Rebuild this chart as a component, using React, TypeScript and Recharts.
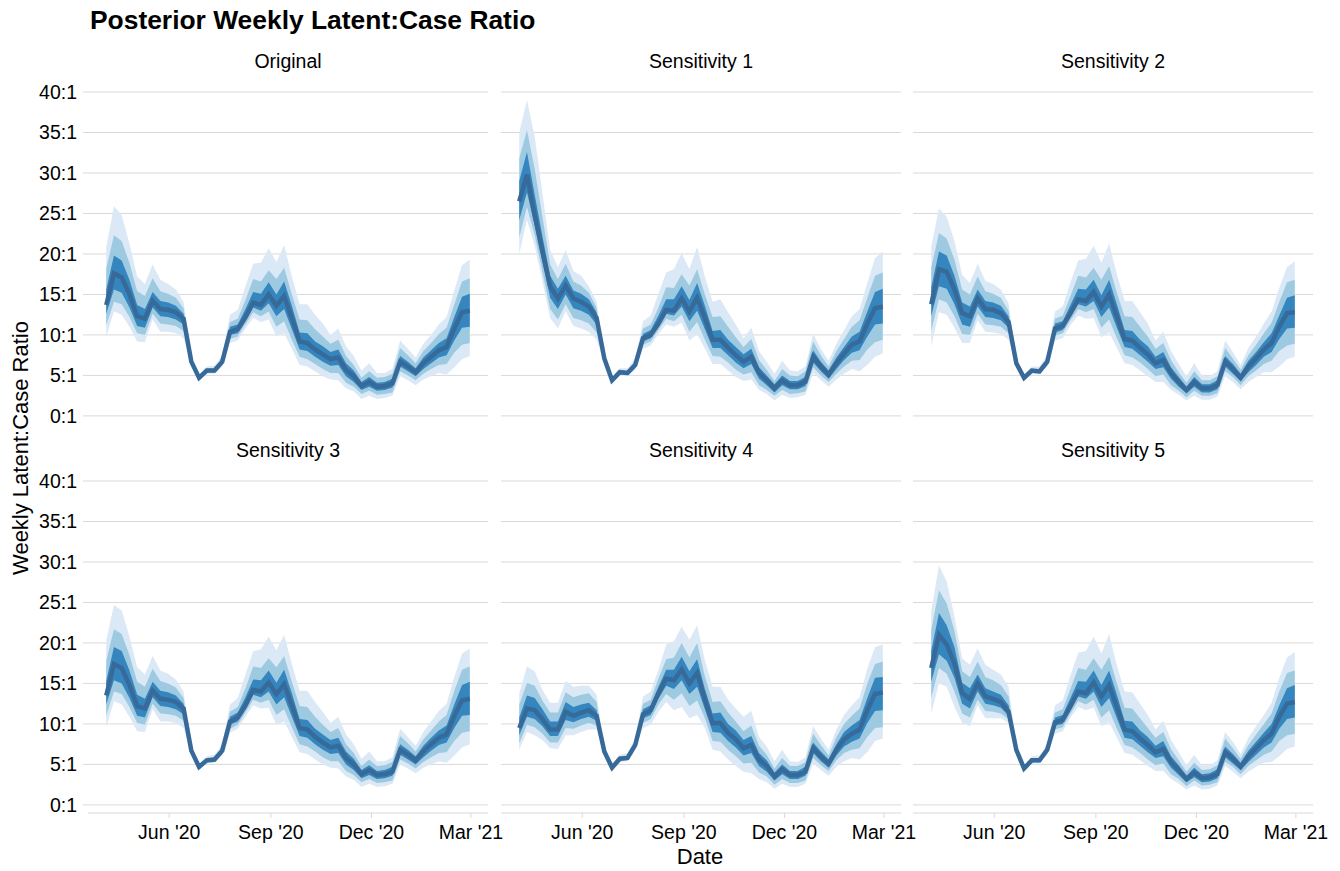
import React from 'react';
import { ComposedChart, Area, Line, XAxis, YAxis, CartesianGrid } from 'recharts';

const FONT = '"Liberation Sans", Arial, Helvetica, sans-serif';

// ---------- categories / ticks ----------
const weeks = [
  '2020-04-05', '2020-04-12', '2020-04-19', '2020-04-26', '2020-05-03', '2020-05-10', '2020-05-17', '2020-05-24',
  '2020-05-31', '2020-06-07', '2020-06-14', '2020-06-21', '2020-06-28', '2020-07-05', '2020-07-12', '2020-07-19',
  '2020-07-26', '2020-08-02', '2020-08-09', '2020-08-16', '2020-08-23', '2020-08-30', '2020-09-06', '2020-09-13',
  '2020-09-20', '2020-09-27', '2020-10-04', '2020-10-11', '2020-10-18', '2020-10-25', '2020-11-01', '2020-11-08',
  '2020-11-15', '2020-11-22', '2020-11-29', '2020-12-06', '2020-12-13', '2020-12-20', '2020-12-27', '2021-01-03',
  '2021-01-10', '2021-01-17', '2021-01-24', '2021-01-31', '2021-02-07', '2021-02-14', '2021-02-21', '2021-02-28',
];
const tickDates = ['2020-06-01', '2020-09-01', '2020-12-01', '2021-03-01'];
const tickLabels = ["Jun '20", "Sep '20", "Dec '20", "Mar '21"];
const yTicks = [0, 5, 10, 15, 20, 25, 30, 35, 40];
const facetTitles = ['Original', 'Sensitivity 1', 'Sensitivity 2', 'Sensitivity 3', 'Sensitivity 4', 'Sensitivity 5'];

// ---------- Original ----------
const origMed = [13.7,17.6,17.1,15.0,12.3,12.0,14.2,13.2,13.1,12.8,12.0,6.7,4.7,5.6,5.6,6.7,10.4,10.7,12.2,14.0,13.7,15.0,13.6,14.8,12.1,9.2,9.0,8.2,7.6,7.0,7.2,5.7,4.9,3.7,4.2,3.6,3.7,4.0,6.7,6.1,5.4,6.5,7.3,8.1,8.5,10.8,12.8,13.0];
const origLo95 = [9.8,12.9,12.5,11.0,9.2,9.1,11.9,10.4,10.4,10.2,9.6,6.2,4.3,5.2,5.2,6.1,9.0,9.3,10.8,12.1,11.6,11.9,9.8,10.2,8.3,6.3,6.1,5.5,4.9,4.5,4.4,3.4,3.0,2.1,2.5,2.1,2.2,2.5,4.9,4.4,3.8,4.5,4.9,5.3,5.1,6.0,7.0,7.4];
const origHi95 = [20.9,25.9,24.8,21.3,17.2,16.3,18.7,16.8,16.3,15.6,14.1,7.3,5.1,6.1,6.2,7.5,12.5,13.1,16.0,18.8,18.9,20.7,19.0,21.1,17.2,13.8,13.8,12.5,11.4,10.0,10.8,8.6,7.4,5.6,6.5,5.3,5.3,5.8,9.3,8.3,7.2,8.9,10.0,11.3,12.2,15.5,18.6,19.3];
const origLo80 = [11.2,14.1,13.8,12.2,10.2,10.0,12.6,11.4,11.3,11.1,10.5,6.4,4.5,5.3,5.3,6.3,9.5,9.8,11.3,12.8,12.3,12.9,11.0,11.7,9.4,7.3,7.0,6.4,5.8,5.3,5.3,4.1,3.6,2.7,3.1,2.6,2.7,2.9,5.5,5.0,4.4,5.2,5.8,6.3,6.4,7.8,8.8,9.0];
const origHi80 = [18.2,22.3,21.6,18.9,15.4,14.8,17.0,15.4,15.1,14.6,13.3,7.0,4.9,5.9,5.9,7.1,11.6,12.0,14.3,16.9,16.6,18.0,16.9,18.3,15.0,11.9,11.8,10.7,9.8,8.9,9.4,7.4,6.3,4.7,5.5,4.7,4.8,5.2,8.4,7.5,6.5,8.0,9.0,10.1,10.9,13.8,16.6,17.0];
const origLo50 = [12.6,15.6,15.2,13.4,11.1,10.9,13.4,12.3,12.2,11.9,11.3,6.5,4.6,5.5,5.5,6.5,10.0,10.2,11.7,13.4,13.0,13.9,12.3,13.2,10.7,8.2,8.0,7.3,6.7,6.2,6.3,4.9,4.2,3.2,3.6,3.1,3.2,3.5,6.1,5.5,4.9,5.8,6.5,7.2,7.5,9.3,10.9,11.0];
const origHi50 = [15.6,19.8,19.2,16.8,13.7,13.2,15.3,14.2,14.0,13.6,12.6,6.9,4.8,5.8,5.8,6.9,11.0,11.3,13.2,15.3,15.1,16.5,15.0,16.6,13.6,10.3,10.2,9.2,8.6,7.9,8.2,6.5,5.6,4.2,4.8,4.1,4.2,4.6,7.4,6.7,5.9,7.2,8.1,9.0,9.6,12.2,14.7,15.1];

// ---------- Sensitivity 1 ----------
const s1Med = [26.5,29.8,24.8,20.3,16.0,14.5,16.1,14.5,14.1,13.5,12.1,7.1,4.4,5.4,5.3,6.3,9.6,10.0,11.4,13.1,13.0,14.5,12.9,14.6,12.1,9.4,9.4,8.4,7.5,6.7,7.3,5.3,4.4,3.4,4.4,3.8,3.8,4.2,7.3,6.1,5.1,6.5,7.7,8.8,9.2,11.4,13.3,13.5];
const s1Lo95 = [20.0,24.2,21.0,16.6,12.1,10.8,12.9,11.1,10.8,10.4,9.4,6.5,4.0,5.0,4.9,5.7,8.3,8.7,10.1,11.3,11.0,11.5,9.3,10.1,8.3,6.4,6.4,5.6,4.8,4.3,4.5,3.2,2.7,1.9,2.6,2.2,2.3,2.6,5.3,4.4,3.6,4.5,5.2,5.8,5.5,6.3,7.3,7.7];
const s1Hi95 = [35.0,39.0,34.5,27.5,20.5,18.4,20.5,17.9,17.3,16.0,14.1,7.8,4.8,5.9,5.9,7.1,11.7,12.4,15.1,17.7,18.1,20.1,18.1,20.9,17.2,14.1,14.4,12.8,11.3,9.6,10.9,8.0,6.7,5.2,6.8,5.6,5.5,6.1,10.1,8.3,6.8,8.9,10.6,12.3,13.2,16.4,19.5,20.3];
const s1Lo80 = [22.0,25.8,22.3,17.8,13.2,11.9,13.8,12.1,11.8,11.4,10.3,6.7,4.2,5.1,5.0,5.9,8.8,9.2,10.6,12.0,11.7,12.5,10.4,11.6,9.4,7.4,7.3,6.6,5.7,5.1,5.4,3.8,3.2,2.5,3.2,2.7,2.8,3.0,6.0,5.0,4.2,5.2,6.1,6.8,6.9,8.2,9.1,9.4];
const s1Hi80 = [31.8,35.3,30.5,24.6,18.7,16.9,18.8,16.6,16.1,15.2,13.4,7.5,4.6,5.7,5.6,6.7,10.8,11.3,13.4,15.9,15.8,17.5,16.1,18.1,15.0,12.2,12.3,11.0,9.7,8.5,9.5,6.9,5.7,4.3,5.8,5.0,4.9,5.5,9.2,7.5,6.1,8.0,9.5,11.0,11.8,14.6,17.3,17.7];
const s1Lo50 = [24.2,27.6,23.5,19.0,14.6,13.2,15.0,13.3,13.0,12.5,11.3,6.9,4.3,5.3,5.2,6.1,9.2,9.6,11.0,12.6,12.4,13.5,11.7,13.0,10.7,8.4,8.4,7.5,6.6,5.9,6.4,4.6,3.8,2.9,3.8,3.3,3.3,3.7,6.6,5.5,4.6,5.8,6.9,7.8,8.1,9.8,11.3,11.4];
const s1Hi50 = [29.0,32.6,27.3,22.2,17.3,15.7,17.3,15.5,15.1,14.4,12.8,7.3,4.5,5.6,5.5,6.5,10.1,10.6,12.4,14.4,14.4,16.0,14.3,16.4,13.6,10.5,10.6,9.4,8.5,7.6,8.3,6.0,5.0,3.9,5.0,4.3,4.3,4.8,8.1,6.7,5.6,7.2,8.5,9.8,10.4,12.9,15.3,15.7];

// ---------- Sensitivity 2 ----------
const s2Med = [13.8,18.1,17.8,15.6,12.7,12.3,14.5,13.2,13.1,12.7,11.6,6.5,4.7,5.6,5.5,6.7,10.8,11.1,12.7,14.4,14.2,15.3,13.5,15.0,12.3,9.5,9.3,8.4,7.6,6.5,6.9,5.3,4.2,3.2,4.2,3.4,3.4,3.8,6.7,5.8,4.7,6.1,7.1,8.2,9.0,11.0,12.7,12.8];
const s2Lo95 = [8.6,12.8,12.5,10.9,9.0,9.0,11.8,10.4,10.3,10.1,9.4,6.0,4.3,5.2,5.1,6.1,9.3,9.6,11.2,12.4,12.0,12.1,9.7,10.3,8.4,6.5,6.3,5.6,4.9,4.2,4.2,3.2,2.6,1.9,2.5,2.0,2.0,2.4,4.9,4.2,3.3,4.2,4.8,5.4,5.4,6.1,7.0,7.3];
const s2Hi95 = [20.9,25.6,24.6,21.6,17.4,16.4,18.8,16.7,16.3,15.6,13.9,7.1,5.1,6.1,6.1,7.5,12.9,13.5,16.5,19.2,19.4,21.0,18.9,21.3,17.5,14.2,14.2,12.8,11.4,9.3,10.4,8.0,6.4,4.9,6.5,5.0,4.9,5.5,9.3,7.9,6.3,8.4,9.8,11.4,12.9,15.8,18.4,19.1];
const s2Lo80 = [10.5,14.4,14.0,12.3,10.1,10.0,12.6,11.3,11.2,11.0,10.2,6.2,4.5,5.3,5.2,6.3,9.9,10.2,11.8,13.2,12.8,13.2,10.9,11.9,9.6,7.5,7.2,6.6,5.8,4.9,5.1,3.8,3.1,2.3,3.1,2.5,2.5,2.8,5.5,4.8,3.8,4.9,5.6,6.4,6.8,8.0,8.7,8.9];
const s2Hi80 = [18.3,22.6,21.9,19.3,15.6,15.0,17.2,15.4,15.1,14.6,13.0,6.9,4.9,5.9,5.8,7.1,12.0,12.4,14.8,17.3,17.1,18.3,16.8,18.5,15.2,12.3,12.2,11.0,9.8,8.3,9.0,6.9,5.4,4.1,5.5,4.4,4.4,4.9,8.4,7.1,5.7,7.5,8.8,10.2,11.5,14.1,16.5,16.8];
const s2Lo50 = [12.3,16.0,15.7,13.8,11.3,11.0,13.5,12.2,12.1,11.8,10.9,6.3,4.6,5.5,5.4,6.5,10.3,10.6,12.2,13.8,13.5,14.2,12.2,13.4,10.9,8.5,8.3,7.5,6.7,5.8,6.0,4.6,3.6,2.8,3.6,2.9,2.9,3.3,6.1,5.2,4.3,5.4,6.3,7.3,7.9,9.5,10.8,10.9];
const s2Hi50 = [15.9,20.3,19.8,17.3,14.0,13.5,15.6,14.2,14.0,13.6,12.3,6.7,4.8,5.8,5.7,6.9,11.4,11.7,13.7,15.7,15.6,16.8,14.9,16.8,13.8,10.6,10.5,9.4,8.6,7.3,7.9,6.0,4.8,3.6,4.8,3.9,3.9,4.4,7.4,6.4,5.2,6.8,7.9,9.1,10.2,12.4,14.6,14.9];

// ---------- Sensitivity 3 ----------
const s3Med = [13.5,17.4,16.9,14.8,12.2,11.9,14.1,13.1,13.0,12.7,11.9,6.7,4.7,5.5,5.6,6.7,10.3,10.8,12.3,14.2,14.0,15.1,13.7,14.9,12.3,9.5,9.3,8.4,7.7,7.1,7.3,5.8,5.0,3.8,4.3,3.7,3.8,4.1,6.8,6.2,5.5,6.6,7.5,8.3,8.7,11.0,12.9,13.1];
const s3Lo95 = [9.6,12.8,12.4,10.9,9.1,9.0,11.8,10.3,10.3,10.1,9.5,6.2,4.3,5.1,5.2,6.1,8.9,9.4,10.9,12.3,11.9,12.0,9.9,10.3,8.4,6.5,6.3,5.6,5.0,4.6,4.5,3.5,3.1,2.2,2.6,2.2,2.3,2.6,5.0,4.5,3.9,4.6,5.0,5.4,5.2,6.1,7.1,7.5];
const s3Hi95 = [20.3,24.7,24.0,20.8,17.0,16.1,18.4,16.6,16.2,15.5,14.0,7.3,5.1,6.0,6.2,7.5,12.4,13.2,16.1,19.0,19.2,20.8,19.1,21.0,17.4,14.1,14.1,12.7,11.5,10.1,10.9,8.7,7.5,5.7,6.6,5.4,5.4,5.9,9.4,8.4,7.3,9.0,10.3,11.6,12.5,15.8,18.7,19.3];
const s3Lo80 = [11.0,14.0,13.7,12.1,10.1,9.9,12.5,11.3,11.2,11.0,10.4,6.4,4.5,5.2,5.3,6.3,9.4,9.9,11.4,13.0,12.6,13.0,11.1,11.8,9.6,7.5,7.2,6.6,5.9,5.4,5.4,4.2,3.7,2.8,3.2,2.7,2.8,3.0,5.6,5.1,4.5,5.3,5.9,6.4,6.5,7.9,8.9,9.1];
const s3Hi80 = [17.8,21.7,21.1,18.5,15.2,14.6,16.8,15.3,15.0,14.5,13.2,7.0,4.9,5.8,5.9,7.1,11.5,12.1,14.4,17.1,16.9,18.1,17.0,18.4,15.2,12.2,12.1,10.9,9.9,9.0,9.5,7.5,6.4,4.8,5.6,4.8,4.9,5.3,8.5,7.6,6.6,8.1,9.2,10.3,11.1,14.1,16.7,17.1];
const s3Lo50 = [12.4,15.4,15.0,13.2,11.0,10.8,13.3,12.2,12.1,11.8,11.2,6.5,4.6,5.4,5.5,6.5,9.9,10.3,11.8,13.6,13.3,14.0,12.4,13.3,10.9,8.5,8.3,7.5,6.8,6.3,6.4,5.0,4.3,3.3,3.7,3.2,3.3,3.6,6.2,5.6,5.0,5.9,6.7,7.4,7.7,9.5,11.0,11.1];
const s3Hi50 = [15.3,19.5,19.0,16.6,13.6,13.1,15.2,14.1,13.9,13.5,12.5,6.9,4.8,5.7,5.8,6.9,10.9,11.4,13.3,15.5,15.4,16.6,15.1,16.7,13.8,10.6,10.5,9.4,8.7,8.0,8.3,6.6,5.7,4.3,4.9,4.2,4.3,4.7,7.5,6.8,6.0,7.3,8.3,9.2,9.8,12.4,14.8,15.2];

// ---------- Sensitivity 4 ----------
const s4Med = [9.5,11.9,11.7,10.6,9.3,9.3,11.5,11.0,11.4,11.7,11.0,6.6,4.6,5.7,5.8,7.4,11.2,11.7,13.8,15.6,15.4,16.7,15.0,16.3,13.0,10.1,10.1,8.9,8.1,7.0,7.4,5.6,4.8,3.5,4.4,3.7,3.7,4.1,7.0,6.0,5.1,6.8,8.1,8.8,9.3,11.7,13.7,13.9];
const s4Lo95 = [6.8,9.0,8.6,8.0,7.0,6.9,8.6,8.6,9.0,9.3,9.3,6.1,4.2,5.3,5.4,6.8,9.5,9.9,11.5,12.7,11.7,12.1,10.7,11.1,9.5,6.8,6.6,5.6,4.8,4.1,3.9,3.2,2.8,2.0,2.6,2.2,2.2,2.6,5.1,4.3,3.6,4.7,5.4,5.8,5.6,6.5,7.9,8.2];
const s4Hi95 = [13.8,17.1,16.5,14.2,12.6,12.6,15.3,14.6,14.7,14.7,13.6,7.2,5.0,6.2,6.4,8.2,13.4,14.0,16.7,19.8,20.2,22.0,20.4,22.2,17.9,14.6,14.6,13.0,11.9,10.9,11.6,8.4,7.2,5.4,6.8,5.4,5.3,5.9,9.7,8.2,6.8,9.3,11.1,12.3,13.3,16.8,19.5,19.8];
const s4Lo80 = [7.6,9.9,9.6,8.8,7.7,7.7,9.5,9.4,9.8,10.1,9.8,6.3,4.4,5.4,5.5,7.0,10.1,10.6,12.4,13.7,13.0,13.8,12.2,12.9,10.7,7.9,7.8,6.8,6.0,5.1,5.2,4.0,3.5,2.5,3.2,2.7,2.7,3.0,5.8,4.9,4.2,5.5,6.4,6.8,7.0,8.4,9.5,9.6];
const s4Hi80 = [12.4,15.1,14.7,12.9,11.4,11.4,13.9,13.3,13.6,13.8,12.7,6.9,4.8,6.0,6.1,7.8,12.5,13.0,15.6,18.0,18.2,20.0,18.2,20.0,15.9,12.7,12.8,11.4,10.3,9.1,9.8,7.3,6.2,4.5,5.8,4.8,4.8,5.3,8.8,7.4,6.1,8.4,10.0,11.0,11.9,15.0,17.4,17.7];
const s4Lo50 = [8.6,10.9,10.6,9.7,8.5,8.5,10.5,10.2,10.6,10.9,10.4,6.4,4.5,5.6,5.7,7.2,10.7,11.1,13.1,14.7,14.3,15.4,13.7,14.6,11.8,9.0,8.9,7.9,7.1,6.1,6.4,4.8,4.1,3.0,3.8,3.2,3.2,3.6,6.4,5.4,4.6,6.1,7.2,7.8,8.2,10.1,11.6,11.7];
const s4Hi50 = [10.8,13.5,13.2,11.8,10.3,10.3,12.7,12.1,12.4,12.6,11.7,6.8,4.7,5.9,6.0,7.6,11.8,12.3,14.6,16.7,16.7,18.3,16.5,18.0,14.3,11.3,11.4,10.0,9.2,8.0,8.5,6.4,5.5,4.0,5.0,4.2,4.2,4.7,7.7,6.6,5.6,7.5,9.0,9.8,10.5,13.2,15.7,15.8];

// ---------- Sensitivity 5 ----------
const s5Med = [16.9,21.0,19.8,17.5,13.8,13.1,15.0,13.4,13.1,12.7,11.5,6.8,4.5,5.5,5.5,6.8,10.2,10.5,12.2,14.0,13.8,15.1,13.4,14.8,12.1,9.3,9.1,8.2,7.4,6.5,6.9,5.3,4.3,3.2,4.0,3.3,3.4,3.8,6.5,5.7,4.7,6.0,7.0,8.0,8.8,10.9,12.5,12.7];
const s5Lo95 = [11.3,15.0,14.6,12.1,10.1,9.7,12.3,10.7,10.7,10.7,10.1,6.3,4.1,5.1,5.1,6.2,8.8,9.1,10.8,12.1,11.7,12.0,9.7,10.2,8.3,6.4,6.2,5.5,4.8,4.2,4.2,3.2,2.6,1.9,2.4,1.9,2.0,2.4,4.8,4.1,3.3,4.1,4.7,5.2,5.3,6.0,6.9,7.2];
const s5Hi95 = [23.9,29.6,27.6,23.3,18.1,17.3,19.3,17.3,16.7,16.1,14.6,7.4,4.9,6.0,6.1,7.6,12.3,12.9,16.0,18.8,19.0,20.8,18.7,21.1,17.2,14.0,13.9,12.5,11.1,9.3,10.4,8.0,6.5,4.9,6.2,4.9,4.9,5.5,9.0,7.8,6.3,8.3,9.7,11.1,12.6,15.7,18.2,18.9];
const s5Lo80 = [13.2,16.9,16.2,14.0,11.3,10.8,13.0,11.6,11.5,11.3,10.6,6.5,4.3,5.2,5.2,6.4,9.3,9.6,11.3,12.8,12.4,13.0,10.8,11.7,9.4,7.4,7.1,6.4,5.6,4.9,5.1,3.8,3.2,2.3,3.0,2.4,2.5,2.8,5.3,4.7,3.8,4.8,5.5,6.2,6.6,7.9,8.6,8.8];
const s5Hi80 = [21.6,26.5,24.9,21.5,16.5,15.8,17.7,15.8,15.4,14.8,13.4,7.1,4.7,5.8,5.8,7.2,11.4,11.8,14.3,16.9,16.7,18.1,16.7,18.3,15.0,12.0,11.9,10.7,9.5,8.3,9.0,6.9,5.5,4.1,5.2,4.3,4.4,4.9,8.2,7.0,5.7,7.4,8.7,10.0,11.3,14.0,16.3,16.6];
const s5Lo50 = [15.2,18.6,17.8,15.7,12.5,11.9,14.0,12.5,12.3,12.0,11.0,6.6,4.4,5.4,5.4,6.6,9.8,10.0,11.7,13.4,13.1,14.0,12.1,13.2,10.7,8.3,8.1,7.3,6.5,5.8,6.0,4.6,3.7,2.8,3.4,2.8,2.9,3.3,5.9,5.1,4.3,5.3,6.2,7.1,7.7,9.4,10.6,10.8];
const s5Hi50 = [19.0,23.7,22.2,19.5,15.1,14.4,16.1,14.4,14.0,13.6,12.3,7.0,4.6,5.7,5.7,7.0,10.8,11.1,13.2,15.3,15.2,16.6,14.8,16.6,13.6,10.4,10.3,9.2,8.4,7.3,7.9,6.0,4.9,3.6,4.6,3.8,3.9,4.4,7.2,6.3,5.2,6.7,7.8,8.9,10.0,12.3,14.4,14.8];

const PANELS = [
  { med: origMed, lo95: origLo95, hi95: origHi95, lo80: origLo80, hi80: origHi80, lo50: origLo50, hi50: origHi50 },
  { med: s1Med, lo95: s1Lo95, hi95: s1Hi95, lo80: s1Lo80, hi80: s1Hi80, lo50: s1Lo50, hi50: s1Hi50 },
  { med: s2Med, lo95: s2Lo95, hi95: s2Hi95, lo80: s2Lo80, hi80: s2Hi80, lo50: s2Lo50, hi50: s2Hi50 },
  { med: s3Med, lo95: s3Lo95, hi95: s3Hi95, lo80: s3Lo80, hi80: s3Hi80, lo50: s3Lo50, hi50: s3Hi50 },
  { med: s4Med, lo95: s4Lo95, hi95: s4Hi95, lo80: s4Lo80, hi80: s4Hi80, lo50: s4Lo50, hi50: s4Hi50 },
  { med: s5Med, lo95: s5Lo95, hi95: s5Hi95, lo80: s5Lo80, hi80: s5Hi80, lo50: s5Lo50, hi50: s5Hi50 },
];

// ---------- styling / layout ----------
const C95 = '#dbe9f6';
const C80 = '#9ecae1';
const C50 = '#3585bf';
const CLINE = '#376a99';
const GRID = '#d9d9d9';

const PLOT_LEFTS = [88, 501, 913];
const PLOT_TOPS = [92, 481];
const PLOT_W = 400;
const PLOT_H = 332;

const DAY = 86400000;
const toDay = (s: string) => Date.parse(s + 'T00:00:00Z') / DAY;
const xTicks = tickDates.map(toDay);
const xDomain = [toDay(weeks[0]) - 16.5, toDay(weeks[weeks.length - 1]) + 16.5];

function Panel({ p, col, row }: { p: any; col: number; row: number }) {
  const data = weeks.map((w, i) => ({
    t: toDay(w),
    med: p.med[i],
    b95: [p.lo95[i], p.hi95[i]],
    b80: [p.lo80[i], p.hi80[i]],
    b50: [p.lo50[i], p.hi50[i]],
  }));
  const yW = col === 0 ? 80 : 0;
  const xH = row === 1 ? 45 : 0;
  const mt = 16;
  const mr = 36;
  const mb = row === 1 ? 0 : 16;
  return (
    <div style={{ position: 'absolute', left: PLOT_LEFTS[col] - yW, top: PLOT_TOPS[row] - mt }}>
      <ComposedChart
        width={yW + PLOT_W + mr}
        height={mt + PLOT_H + xH + mb}
        data={data}
        margin={{ top: mt, right: mr, bottom: mb, left: 0 }}
      >
        <CartesianGrid horizontal vertical={false} horizontalValues={yTicks} stroke={GRID} strokeWidth={1} />
        <XAxis
          type="number"
          dataKey="t"
          domain={xDomain}
          ticks={xTicks}
          interval={0}
          hide={row === 0}
          height={xH || 30}
          tickFormatter={(v: number) => tickLabels[xTicks.indexOf(v)] ?? ''}
          axisLine={{ stroke: GRID }}
          tickLine={{ stroke: GRID }}
          tickSize={5}
          tickMargin={7}
          tick={{ fontSize: 19.5, fill: '#000', fontFamily: FONT }}
        />
        <YAxis
          type="number"
          domain={[-1, 40]}
          ticks={yTicks}
          interval={0}
          hide={col !== 0}
          width={yW || 60}
          axisLine={false}
          tickLine={{ stroke: GRID }}
          tickSize={5}
          tickMargin={6}
          tickFormatter={(v: number) => `${v}:1`}
          tick={{ fontSize: 19.5, fill: '#000', fontFamily: FONT }}
        />
        <Area type="linear" dataKey="b95" stroke="none" fill={C95} fillOpacity={1} isAnimationActive={false} dot={false} activeDot={false} />
        <Area type="linear" dataKey="b80" stroke="none" fill={C80} fillOpacity={1} isAnimationActive={false} dot={false} activeDot={false} />
        <Area type="linear" dataKey="b50" stroke="none" fill={C50} fillOpacity={1} isAnimationActive={false} dot={false} activeDot={false} />
        <Line type="linear" dataKey="med" stroke={CLINE} strokeWidth={4.5} dot={false} activeDot={false} isAnimationActive={false} />
      </ComposedChart>
    </div>
  );
}

export default function App() {
  return (
    <div style={{ position: 'absolute', left: 0, top: 0, width: 1340, height: 871, background: '#fff', fontFamily: FONT }}>
      {PANELS.map((p, i) => (
        <Panel key={i} p={p} col={i % 3} row={Math.floor(i / 3)} />
      ))}
      <svg width={1340} height={871} style={{ position: 'absolute', left: 0, top: 0, pointerEvents: 'none' }}>
        <text x={90} y={29} fontFamily={FONT} fontSize={26.4} fontWeight="bold" fill="#000">
          Posterior Weekly Latent:Case Ratio
        </text>
        {facetTitles.map((t, i) => (
          <text
            key={t}
            x={PLOT_LEFTS[i % 3] + PLOT_W / 2}
            y={PLOT_TOPS[Math.floor(i / 3)] - 24}
            textAnchor="middle"
            fontFamily={FONT}
            fontSize={19.5}
            fill="#000"
          >
            {t}
          </text>
        ))}
        <text
          x={28}
          y={448}
          transform="rotate(-90, 28, 448)"
          textAnchor="middle"
          fontFamily={FONT}
          fontSize={22}
          fill="#000"
        >
          Weekly Latent:Case Ratio
        </text>
        <text x={700} y={864} textAnchor="middle" fontFamily={FONT} fontSize={22} fill="#000">
          Date
        </text>
      </svg>
    </div>
  );
}
